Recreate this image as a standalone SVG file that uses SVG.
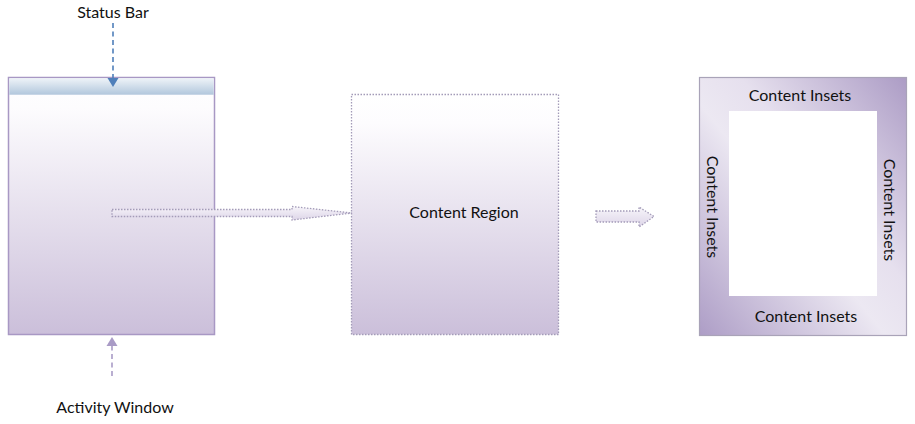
<svg xmlns="http://www.w3.org/2000/svg" width="915" height="424" viewBox="0 0 915 424">
<style>
text{font-family:Lato,"Open Sans","Liberation Sans",sans-serif;font-size:16px;fill:#111}
.dot{stroke:#a39bb8;stroke-width:1.3;stroke-dasharray:1.5 1.5}
</style>
<defs>
<linearGradient id="gWin" x1="0" y1="0" x2="0" y2="1">
<stop offset="0" stop-color="#ffffff"/>
<stop offset="0.12" stop-color="#fdfcfe"/>
<stop offset="1" stop-color="#cbbfda"/>
</linearGradient>
<linearGradient id="gBar" x1="0" y1="0" x2="0" y2="1">
<stop offset="0" stop-color="#eef3f8"/>
<stop offset="1" stop-color="#b3c8dd"/>
</linearGradient>
<linearGradient id="gInset" x1="0" y1="1" x2="1" y2="0">
<stop offset="0" stop-color="#ad9dc6"/>
<stop offset="0.45" stop-color="#ece8f2"/>
<stop offset="0.6" stop-color="#e6e0ee"/>
<stop offset="1" stop-color="#ac9cc5"/>
</linearGradient>
<linearGradient id="gArrow" x1="0" y1="0" x2="0" y2="1">
<stop offset="0" stop-color="#f7f5fa"/>
<stop offset="1" stop-color="#ddd5e8"/>
</linearGradient>
</defs>

<g id="activity-window">
<rect x="8.5" y="77.5" width="206" height="257" fill="url(#gWin)" stroke="#a898c4" stroke-width="1.5"/>
<rect x="9.3" y="78.3" width="204.4" height="16" fill="url(#gBar)"/>
<line x1="9" y1="94.5" x2="214" y2="94.5" stroke="#c8d6e6" stroke-width="1"/>
</g>

<g id="content-region">
<rect x="351.5" y="94.5" width="207" height="240" fill="url(#gWin)" class="dot"/>
<text x="464" y="218" text-anchor="middle">Content Region</text>
</g>

<g id="content-insets">
<rect x="699.5" y="77.5" width="207" height="258" fill="url(#gInset)" stroke="#a9a3b8" stroke-width="1.2"/>
<rect x="729" y="111" width="148" height="185" fill="#ffffff"/>
<text x="800" y="101" text-anchor="middle">Content Insets</text>
<text x="806" y="322" text-anchor="middle">Content Insets</text>
<text transform="translate(707,207) rotate(90)" text-anchor="middle">Content Insets</text>
<text transform="translate(884,210) rotate(90)" text-anchor="middle">Content Insets</text>
</g>

<g id="labels">
<text x="113" y="18" text-anchor="middle">Status Bar</text>
<text x="115" y="413" text-anchor="middle">Activity Window</text>
</g>

<g id="connectors">
<line x1="113" y1="23" x2="113" y2="80" stroke="#4f7fba" stroke-width="1.6" stroke-dasharray="5 3.5"/>
<path d="M107.5,78 L118.5,78 L113,87 Z" fill="#4f7fba"/>
<line x1="112" y1="376" x2="112" y2="344" stroke="#a99bc6" stroke-width="1.6" stroke-dasharray="5 3.5"/>
<path d="M106.5,346 L117.5,346 L112,337 Z" fill="#a99bc6"/>
<path d="M112,209.5 L292,209.5 L292,206.5 L352,213 L292,220 L292,216.5 L112,216.5 Z" fill="url(#gArrow)" class="dot"/>
<path d="M596,211 L639,211 L639,207 L654,216.5 L639,227 L639,222 L596,222 Z" fill="url(#gArrow)" class="dot"/>
</g>
</svg>
